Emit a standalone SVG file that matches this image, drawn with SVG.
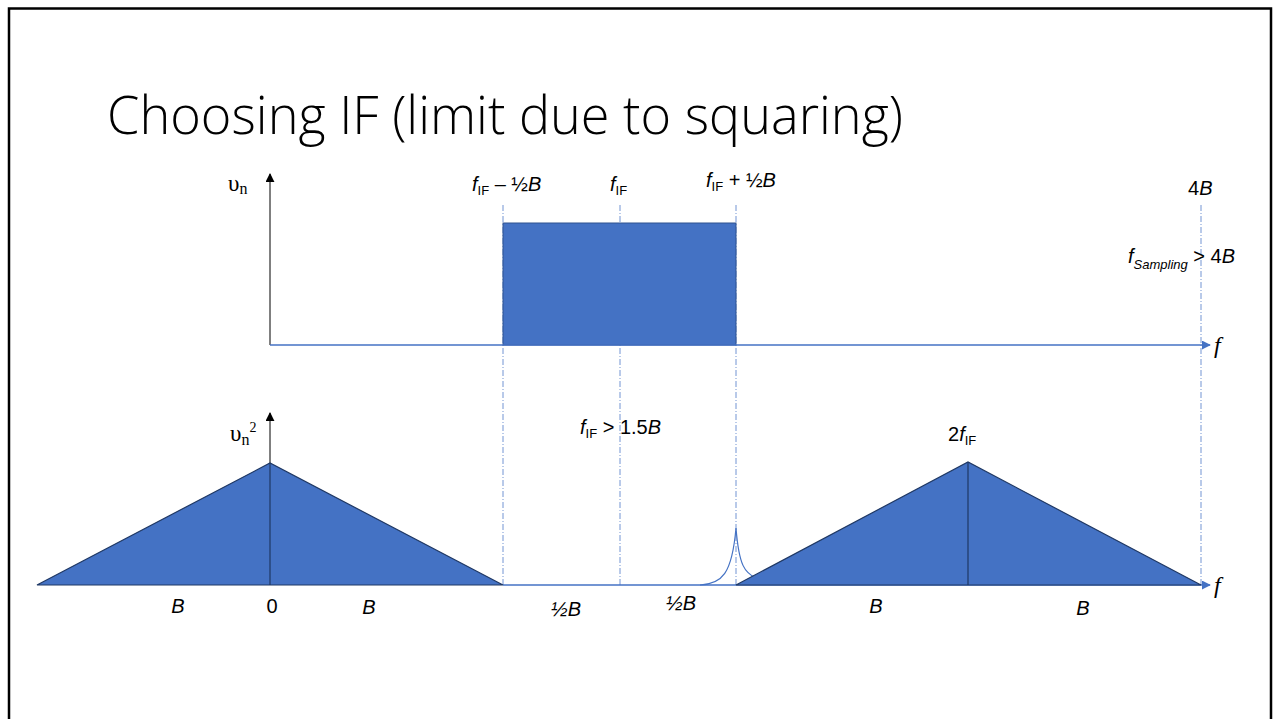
<svg xmlns="http://www.w3.org/2000/svg" width="1277" height="719" viewBox="0 0 1277 719">
<defs>
<style>
.lbl{font-family:"Liberation Sans",Arial,sans-serif;font-size:20px;fill:#000}
.it{font-style:italic}
.sub{font-size:13px}
.ser{font-family:"Liberation Serif","Times New Roman",serif;fill:#000}
.guide{stroke:#4472C4;stroke-width:1;stroke-dasharray:6 2 1 2;opacity:0.75;fill:none}
.tri{fill:#4472C4;stroke:#1F3864;stroke-width:1.2}
.axis{stroke:#4472C4;stroke-width:1.3;fill:none}
</style>
<marker id="arrBlue" viewBox="0 0 10 10" refX="9" refY="5" markerWidth="9" markerHeight="9" markerUnits="userSpaceOnUse" orient="auto"><path d="M0,0 L10,5 L0,10 z" fill="#4472C4"/></marker>
<marker id="arrBlack" viewBox="0 0 10 10" refX="9" refY="5" markerWidth="9" markerHeight="9" markerUnits="userSpaceOnUse" orient="auto"><path d="M0,0 L10,5 L0,10 z" fill="#000"/></marker>
</defs>
<rect x="0" y="0" width="1277" height="719" fill="#fff"/>
<rect x="9" y="8.5" width="1262" height="730" fill="none" stroke="#000" stroke-width="2.5"/>
<text x="107" y="134" font-family="'Open Sans','Liberation Sans',sans-serif" font-weight="300" font-size="54" textLength="796" lengthAdjust="spacingAndGlyphs" fill="#000">Choosing IF (limit due to squaring)</text>

<g id="guides">
<line class="guide" x1="503" y1="205" x2="503" y2="585"/>
<line class="guide" x1="620" y1="205" x2="620" y2="585"/>
<line class="guide" x1="736" y1="205" x2="736" y2="585"/>
<line class="guide" x1="1201" y1="205" x2="1201" y2="585"/>
</g>

<g id="top-spectrum">
<rect x="503" y="223" width="233" height="122" fill="#4472C4" stroke="#2F528F" stroke-width="1"/>
</g>

<g id="connectors">
<line x1="270" y1="345" x2="270" y2="174" stroke="#000" stroke-width="1" marker-end="url(#arrBlack)"/>
<line class="axis" x1="270" y1="345" x2="1210" y2="345" marker-end="url(#arrBlue)"/>
<line x1="270" y1="585" x2="270" y2="413" stroke="#000" stroke-width="1" marker-end="url(#arrBlack)"/>
<line class="axis" x1="503" y1="585" x2="1210" y2="585" marker-end="url(#arrBlue)"/>
</g>

<g id="spike">
<path d="M700,585 C722,584 732,574 736,528 C739,566 745,573 756,578" fill="none" stroke="#4472C4" stroke-width="1.2"/>
</g>

<g id="baseband-triangle">
<polygon class="tri" points="37,585 270,463 503,585"/>
<line x1="270" y1="463" x2="270" y2="585" stroke="#1F3864" stroke-width="1.2"/>
</g>

<g id="image-triangle">
<polygon class="tri" points="736,585 968,462 1201,585"/>
<line x1="968" y1="462" x2="968" y2="585" stroke="#1F3864" stroke-width="1.2"/>
</g>

<g id="labels">
<text class="ser" x="228" y="191" font-size="23">υ<tspan font-size="16" dy="3">n</tspan></text>
<text class="lbl" x="472" y="191"><tspan class="it">f</tspan><tspan class="sub" dy="4">IF</tspan><tspan dy="-4"> – ½</tspan><tspan class="it">B</tspan></text>
<text class="lbl" x="610" y="191"><tspan class="it">f</tspan><tspan class="sub" dy="4">IF</tspan></text>
<text class="lbl" x="706" y="187"><tspan class="it">f</tspan><tspan class="sub" dy="4">IF</tspan><tspan dy="-4"> + ½</tspan><tspan class="it">B</tspan></text>
<text class="lbl" x="1188" y="195">4<tspan class="it">B</tspan></text>
<text class="lbl" x="1128" y="263"><tspan class="it">f</tspan><tspan class="sub it" dy="6">Sampling</tspan><tspan dy="-6"> &gt; 4</tspan><tspan class="it">B</tspan></text>
<text class="ser it" x="1214" y="353" font-size="24" font-style="italic">f</text>
<text class="ser it" x="1214" y="593" font-size="24" font-style="italic">f</text>
<text class="ser" x="230" y="441" font-size="23">υ<tspan font-size="16" dy="4">n</tspan><tspan font-size="14" dy="-13">2</tspan></text>
<text class="lbl" x="580" y="434"><tspan class="it">f</tspan><tspan class="sub" dy="4">IF</tspan><tspan dy="-4"> &gt; 1.5</tspan><tspan class="it">B</tspan></text>
<text class="lbl" x="948" y="441">2<tspan class="it">f</tspan><tspan class="sub" dy="4">IF</tspan></text>
<text class="lbl it" x="178" y="613" text-anchor="middle">B</text>
<text class="lbl" x="272" y="613" text-anchor="middle">0</text>
<text class="lbl it" x="369" y="614" text-anchor="middle">B</text>
<text class="lbl it" x="566" y="616" text-anchor="middle">½B</text>
<text class="lbl it" x="681" y="610" text-anchor="middle">½B</text>
<text class="lbl it" x="876" y="613" text-anchor="middle">B</text>
<text class="lbl it" x="1083" y="615" text-anchor="middle">B</text>
</g>
</svg>
